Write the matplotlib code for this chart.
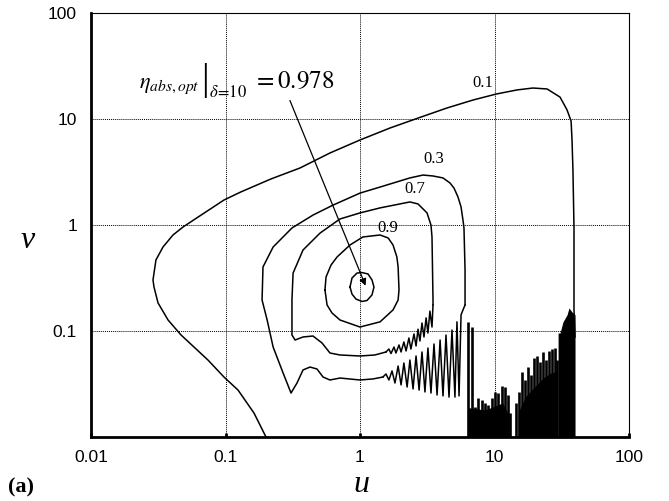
import numpy as np
import matplotlib
matplotlib.use("Agg")
import matplotlib.pyplot as plt

plt.rcParams['mathtext.fontset'] = 'stix'

# contour eta = 0.1 (smooth outer part)
c01_u = [0.200, 0.163, 0.124, 0.0974, 0.0741, 0.0467, 0.0374, 0.0315, 0.0294, 0.0289,
         0.0304, 0.0343, 0.0407, 0.0483, 0.0658, 0.0974, 0.130, 0.218, 0.358, 0.598,
         1.0, 1.67, 2.70, 4.43, 6.92, 10.3, 14.7, 19.3, 24.6, 30.7,
         34.6, 37.1, 37.7, 38.3, 39.0, 39.0, 39.0, 39.7]
c01_v = [0.01, 0.0168, 0.0277, 0.0368, 0.0532, 0.0917, 0.127, 0.184, 0.260, 0.303,
         0.468, 0.620, 0.805, 0.957, 1.24, 1.72, 2.05, 2.72, 3.45, 4.78,
         6.34, 8.22, 10.2, 12.7, 15.1, 17.2, 18.8, 19.6, 19.2, 16.1,
         12.2, 9.57, 6.34, 3.30, 0.937, 0.581, 0.158, 0.0878]

# contour eta = 0.3
c03_u = [6.04, 6.04, 5.93, 5.83, 5.64, 5.35, 5.00, 4.67, 4.14, 3.49, 2.94, 2.35, 1.88,
         1.41, 1.00, 0.630, 0.447, 0.312, 0.226, 0.190, 0.187, 0.204, 0.226, 0.268,
         0.307, 0.340, 0.377, 0.425, 0.479, 0.531, 0.598, 0.710, 1.00, 1.25, 1.48]
c03_v = [0.176, 0.376, 0.937, 1.11, 1.48, 1.84, 2.23, 2.49, 2.78, 2.90, 2.96, 2.78, 2.55,
         2.28, 2.00, 1.54, 1.24, 0.937, 0.620, 0.402, 0.196, 0.127, 0.0706, 0.0402,
         0.0260, 0.0323, 0.0429, 0.0457, 0.0438, 0.0368, 0.0345, 0.0360, 0.0345, 0.0353, 0.0368]
c03w_u = [1.48, 1.56, 1.64, 1.73, 1.82, 1.92, 2.02, 2.12, 2.24, 2.35, 2.48, 2.61, 2.75, 2.89, 3.04,
          3.20, 3.37, 3.55, 3.74, 3.94, 4.14, 4.36, 4.59, 4.83, 5.08, 5.26, 5.45, 5.64, 5.83, 6.04]
c03w_v = [0.0368, 0.0393, 0.0345, 0.0420, 0.0323, 0.0467, 0.0310, 0.0499, 0.0296, 0.0532,
          0.0284, 0.0581, 0.0277, 0.0634, 0.0266, 0.0691, 0.0260, 0.0754, 0.0249, 0.0822,
          0.0244, 0.0917, 0.0238, 0.102, 0.0238, 0.122, 0.0244, 0.142, 0.158, 0.176]

# contour eta = 0.7
c07_u = [3.49, 3.49, 3.43, 3.37, 3.15, 2.70, 2.35, 1.98, 1.41, 1.00, 0.710, 0.505, 0.377,
         0.318, 0.312, 0.312, 0.329, 0.377, 0.447, 0.522, 0.598, 0.710, 1.00, 1.29, 1.56]
c07_v = [0.176, 0.196, 0.771, 1.00, 1.30, 1.58, 1.65, 1.58, 1.45, 1.30, 1.14, 0.840, 0.581,
         0.352, 0.196, 0.0917, 0.0822, 0.0878, 0.0897, 0.0771, 0.0620, 0.0594, 0.0581, 0.0594, 0.0634]
c07w_u = [1.56, 1.64, 1.70, 1.79, 1.85, 1.95, 2.02, 2.12, 2.20, 2.31, 2.39, 2.52, 2.61, 2.70,
          2.79, 2.89, 2.99, 3.10, 3.20, 3.31, 3.43, 3.49]
c07w_v = [0.0634, 0.0676, 0.0613, 0.0706, 0.0620, 0.0738, 0.0634, 0.0788, 0.0648, 0.0859,
          0.0676, 0.0937, 0.0722, 0.104, 0.0805, 0.119, 0.0878, 0.133, 0.0957, 0.154, 0.109, 0.176]

# contour eta = 0.9
c09_u = [0.549, 0.559, 0.609, 0.675, 0.843, 1.05, 1.41, 1.62, 1.76, 1.88,
         1.92, 1.95, 1.92, 1.76, 1.41, 1.00, 0.710, 0.619, 0.569, 0.549]
c09_v = [0.244, 0.323, 0.419, 0.499, 0.648, 0.771, 0.805, 0.754, 0.648, 0.499,
         0.402, 0.244, 0.196, 0.158, 0.122, 0.109, 0.127, 0.148, 0.176, 0.244]

# innermost contour around optimum
c97_u = [0.843, 0.872, 0.950, 1.035, 1.147, 1.228, 1.27, 1.228, 1.127, 1.035, 0.934, 0.872, 0.843]
c97_v = [0.260, 0.316, 0.352, 0.356, 0.345, 0.303, 0.260, 0.219, 0.194, 0.190, 0.200, 0.223, 0.260]

# noisy region near v -> 0 (spike tops and solid base)
spikeA_u = [6.39, 6.76, 7.16, 7.58, 8.03, 8.50, 8.99, 9.53, 10.1, 10.7, 11.3, 12.0, 12.7, 13.0]
spikeA_v = [0.122, 0.110, 0.0193, 0.0232, 0.0223, 0.0208, 0.0200, 0.0232, 0.0268, 0.0258,
            0.0303, 0.0299, 0.0249, 0.0168]
baseA_u = [6.3, 7.2, 8.5, 10.0, 11.5, 12.8]
baseA_v = [0.0190, 0.0185, 0.0180, 0.0195, 0.0210, 0.0160]
spikeB_u = [14.5, 15.2, 16.0, 16.9, 17.7, 18.7, 19.7, 20.7, 21.8, 22.9, 24.2, 25.4, 26.8, 28.2, 29.2]
spikeB_v = [0.0209, 0.0266, 0.0410, 0.0345, 0.0457, 0.0385, 0.0556, 0.0581, 0.0510, 0.0634,
            0.0532, 0.0648, 0.0676, 0.0691, 0.0532]
baseB_u = [15.0, 17.0, 20.0, 23.0, 26.0, 29.5]
baseB_v = [0.0170, 0.0240, 0.0300, 0.0360, 0.0400, 0.0420]
blockC_u = [29.7, 30.7, 32.3, 34.6, 35.8, 37.7, 39.7]
blockC_v = [0.0957, 0.0957, 0.122, 0.142, 0.165, 0.151, 0.142]

# optimum marker
opt_u, opt_v = 1.12, 0.253
label_vals = ['0.1', '0.3', '0.7', '0.9']
label_u = [8.2, 3.55, 2.56, 1.60]
label_v = [21.9, 4.19, 2.19, 0.947]

fig = plt.figure(figsize=(6.69, 5.01), dpi=100)
ax = fig.add_axes([91/669, 1-437/501, 538/669, 424/501])
ax.set_xscale('log')
ax.set_yscale('log')
ax.set_xlim(0.01, 100)
ax.set_ylim(0.01, 100)

lw = 1.1
for uu, vv in [(c01_u, c01_v), (c03_u, c03_v), (c03w_u, c03w_v), (c07_u, c07_v),
               (c07w_u, c07w_v), (c09_u, c09_v), (c97_u, c97_v)]:
    ax.plot(uu, vv, color='k', lw=lw)

ax.vlines(spikeA_u, 0.01, spikeA_v, colors='k', lw=1.9)
ax.vlines(spikeB_u, 0.01, spikeB_v, colors='k', lw=1.9)
ax.fill_between(baseA_u, 0.01, baseA_v, color='k', lw=0)
ax.fill_between(baseB_u, 0.01, baseB_v, color='k', lw=0)
ax.fill_between(blockC_u, 0.01, blockC_v, color='k', lw=0)

for t, uu, vv in zip(label_vals, label_u, label_v):
    ax.text(uu, vv, t, fontsize=12, family='Liberation Serif', ha='center', va='center')

ax.annotate('', xy=(opt_u, opt_v), xytext=(0.296, 15.8),
            arrowprops=dict(arrowstyle='-|>', color='k', lw=0.9, mutation_scale=10))

# annotation text, built from pieces so the evaluation bar can be tall
fig.text(139/669, 1-88/501, r'$\eta_{abs,opt}$', fontsize=16, ha='left', va='baseline')
fig.text(205/669, 1-81/501, '|', fontsize=27, family='Liberation Serif', ha='center', va='center')
fig.text(209/669, 1-97/501, r'$\delta\!=\!10$', fontsize=12, ha='left', va='baseline')
fig.text(253/669, 1-88/501, r'$=0.978$', fontsize=18, ha='left', va='baseline')

ax.set_xticks([0.01, 0.1, 1, 10, 100])
ax.set_xticklabels(['0.01', '0.1', '1', '10', '100'])
ax.set_yticks([0.1, 1, 10, 100])
ax.set_yticklabels(['0.1', '1', '10', '100'])
ax.minorticks_off()
ax.tick_params(axis='x', direction='in', length=3, width=2, pad=9)
ax.tick_params(axis='y', length=0, pad=10)
for lab in ax.get_xticklabels() + ax.get_yticklabels():
    lab.set_fontfamily('Liberation Sans')
    lab.set_fontsize(12.5)
ax.grid(True, color='k', ls=(0, (1, 1)), lw=0.7)
ax.spines['left'].set_linewidth(2)
ax.spines['bottom'].set_linewidth(2)
ax.spines['top'].set_linewidth(0.8)
ax.spines['right'].set_linewidth(0.8)

fig.text(28/669, 1-240/501, 'v', fontsize=23, family='Liberation Serif', style='italic',
         ha='center', va='center')
fig.text(361/669, 1-485/501, 'u', fontsize=23, family='Liberation Serif', style='italic',
         ha='center', va='center')
fig.text(8/669, 1-487/501, '(a)', fontsize=16, family='Liberation Serif', weight='bold',
         ha='left', va='center')

fig.savefig('out.png', dpi=100)
